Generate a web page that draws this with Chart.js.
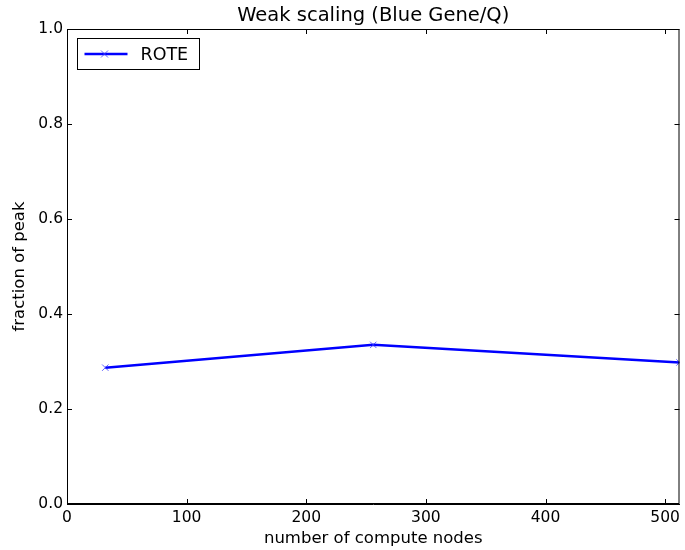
<!DOCTYPE html>
<html>
<head>
<meta charset="utf-8">
<script src="https://cdn.jsdelivr.net/npm/chart.js@4/dist/chart.umd.min.js"></script>
<style>
    html, body { margin: 0; padding: 0; background: #fff; }
    #wrap { width: 685px; height: 550px; }
</style>
</head>
<body>
<div id="wrap"><canvas id="scalingChart" width="685" height="550"></canvas></div>
<script>
// Data
const nodeCounts = [32, 256, 512];
const fractionOfPeak = [0.287, 0.335, 0.298];
const xTickValues = [0, 100, 200, 300, 400, 500];
const yTickValues = [0.0, 0.2, 0.4, 0.6, 0.8, 1.0];
const seriesLabel = 'ROTE';
const titleText = 'Weak scaling (Blue Gene/Q)';

const FONT = '"DejaVu Sans", "Liberation Sans", sans-serif';

// Matplotlib-like frame: full box plus inward ticks on all four sides,
// title centred over the axes and the legend box
const framePlugin = {
    id: 'frame',
    afterDraw(chart) {
        const ctx = chart.ctx;
        const area = chart.chartArea;
        const xs = chart.scales.x;
        const ys = chart.scales.y;
        const len = 5;
        ctx.save();
        ctx.strokeStyle = '#000';
        ctx.lineWidth = 1;
        ctx.strokeRect(area.left + 0.5, area.top + 0.5, area.right - area.left - 1, area.bottom - area.top - 1);
        ctx.beginPath();
        xTickValues.forEach(v => {
            const px = Math.round(xs.getPixelForValue(v)) + 0.5;
            ctx.moveTo(px, area.bottom);
            ctx.lineTo(px, area.bottom - len);
            ctx.moveTo(px, area.top);
            ctx.lineTo(px, area.top + len);
        });
        yTickValues.forEach(v => {
            const py = Math.round(ys.getPixelForValue(v)) + 0.5;
            ctx.moveTo(area.left, py);
            ctx.lineTo(area.left + len, py);
            ctx.moveTo(area.right, py);
            ctx.lineTo(area.right - len, py);
        });
        ctx.stroke();

        // title
        ctx.fillStyle = '#000';
        ctx.font = '19.5px ' + FONT;
        ctx.textAlign = 'center';
        ctx.textBaseline = 'middle';
        ctx.fillText(titleText, (area.left + area.right) / 2, 16);

        // legend box in the upper left corner
        const boxX = area.left + 10.5, boxY = area.top + 9.5;
        const boxW = 122, boxH = 31;
        ctx.fillStyle = '#fff';
        ctx.fillRect(boxX, boxY, boxW, boxH);
        ctx.strokeRect(boxX, boxY, boxW, boxH);
        const midY = boxY + boxH / 2;
        ctx.strokeStyle = '#0000ff';
        ctx.lineWidth = 2.5;
        ctx.beginPath();
        ctx.moveTo(boxX + 7, midY);
        ctx.lineTo(boxX + 50, midY);
        ctx.stroke();
        ctx.strokeStyle = 'rgba(60,60,255,0.8)';
        ctx.lineWidth = 1;
        ctx.beginPath();
        const mx = boxX + 27, r = 3.5;
        ctx.moveTo(mx - r, midY - r); ctx.lineTo(mx + r, midY + r);
        ctx.moveTo(mx - r, midY + r); ctx.lineTo(mx + r, midY - r);
        ctx.stroke();
        ctx.fillStyle = '#000';
        ctx.font = '17.5px ' + FONT;
        ctx.textBaseline = 'middle';
        ctx.textAlign = 'left';
        ctx.fillText(chart.data.datasets[0].label, boxX + 63, midY + 1);
        ctx.restore();
    }
};

const ctx = document.getElementById('scalingChart').getContext('2d');

new Chart(ctx, {
    type: 'line',
    data: {
        datasets: [{
            label: seriesLabel,
            data: nodeCounts.map((n, i) => ({ x: n, y: fractionOfPeak[i] })),
            borderColor: '#0000ff',
            borderWidth: 2.5,
            pointStyle: 'crossRot',
            pointRadius: 4.5,
            pointBorderWidth: 1,
            pointBorderColor: 'rgba(60,60,255,0.8)',
            pointBackgroundColor: 'rgba(60,60,255,0.8)',
            tension: 0,
            fill: false,
            clip: 0
        }]
    },
    plugins: [framePlugin],
    options: {
        responsive: false,
        animation: false,
        layout: { padding: { left: 0, right: 3, top: 29, bottom: 0 } },
        plugins: {
            legend: { display: false },
            tooltip: { enabled: false },
            title: { display: false }
        },
        scales: {
            x: {
                type: 'linear',
                min: 0,
                max: 512,
                afterFit(scale) {
                    scale.height = 46;
                    scale.paddingLeft = 0;
                    scale.paddingRight = 0;
                },
                afterBuildTicks(scale) { scale.ticks = xTickValues.map(v => ({ value: v })); },
                grid: { display: true, drawOnChartArea: false, drawTicks: false },
                border: { display: true, color: '#000', width: 1 },
                ticks: {
                    color: '#000',
                    padding: 5,
                    maxRotation: 0,
                    font: { family: FONT, size: 15.5 }
                },
                title: {
                    display: true,
                    text: 'number of compute nodes',
                    color: '#000',
                    font: { family: FONT, size: 16.5 },
                    padding: { top: 0, bottom: 1 }
                }
            },
            y: {
                type: 'linear',
                min: 0,
                max: 1,
                afterFit(scale) {
                    scale.width = 67;
                    scale.paddingTop = 0;
                    scale.paddingBottom = 0;
                },
                afterBuildTicks(scale) { scale.ticks = yTickValues.map(v => ({ value: v })); },
                grid: { display: true, drawOnChartArea: false, drawTicks: false },
                border: { display: true, color: '#000', width: 1 },
                ticks: {
                    color: '#000',
                    padding: 4,
                    font: { family: FONT, size: 15.5 },
                    callback: v => v.toFixed(1)
                },
                title: {
                    display: true,
                    text: 'fraction of peak',
                    color: '#000',
                    font: { family: FONT, size: 16.5 },
                    padding: { top: 10, bottom: 0 }
                }
            }
        }
    }
});
</script>
</body>
</html>
